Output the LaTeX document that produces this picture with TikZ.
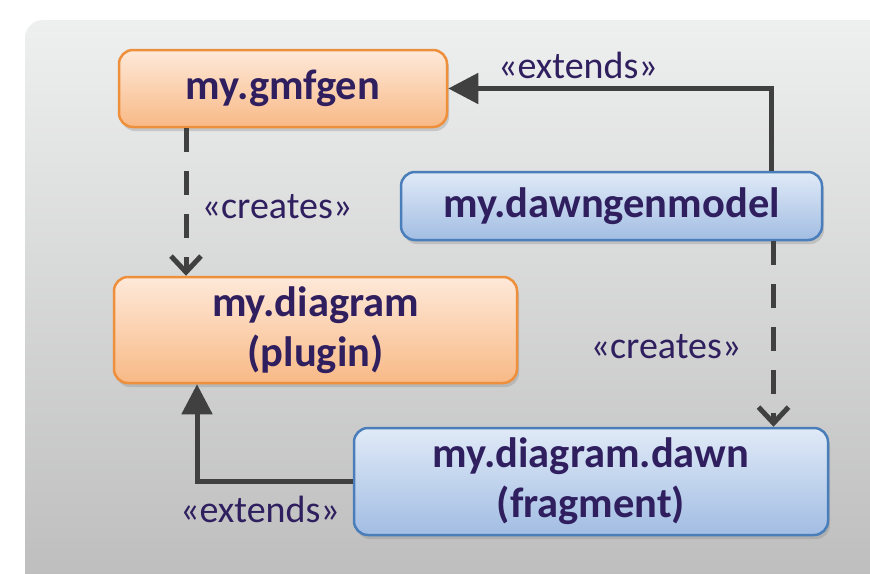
\documentclass[tikz,border=0pt]{standalone}
\usepackage{fontspec}
\setmainfont{Carlito}
\usetikzlibrary{arrows.meta,shadows,calc}

\definecolor{ink}{HTML}{2F1F5F}
\definecolor{wire}{HTML}{404040}
\definecolor{orangeline}{HTML}{EE8F3C}
\definecolor{orangetop}{HTML}{FEE9D9}
\definecolor{orangebot}{HTML}{F8B986}
\definecolor{blueline}{HTML}{4A7EBB}
\definecolor{bluetop}{HTML}{E0EAF7}
\definecolor{bluebot}{HTML}{A2BDE3}
\definecolor{paneltop}{HTML}{EEEFEF}
\definecolor{panelbot}{HTML}{BCBCBC}

\begin{document}
\begin{tikzpicture}[x=1pt, y=-1pt,
    box/.style={draw, line width=2.5pt, rounded corners=14pt, align=center, inner sep=0pt,
        font=\fontsize{42.5}{50}\selectfont\bfseries, text=ink,
        drop shadow={shadow xshift=2pt, shadow yshift=-4pt, opacity=0.3}},
    plugbox/.style={box, draw=orangeline, top color=orangetop, bottom color=orangebot},
    modelbox/.style={box, draw=blueline, top color=bluetop, bottom color=bluebot},
    link/.style={line width=5pt, draw=wire},
    extends/.style={link, -{Triangle[length=30pt, width=30pt]}},
    creates/.style={link, dash pattern=on 24pt off 19pt, -{Straight Barb[length=16pt, width=30pt]}},
    stereo/.style={anchor=base, text=ink, font=\fontsize{38}{44}\selectfont}]
    % --- 1. Frame ---
    \useasboundingbox (0,0) rectangle (870,573);
    \clip (0,0) rectangle (870,573);
    \shade[top color=paneltop, bottom color=panelbot, rounded corners=18pt] (25,20) rectangle (900,600);

    % --- 2. Boxes ---
    \node[plugbox, minimum width=328pt, minimum height=77pt] (gmfgen) at (283,88.5) {my.gmfgen};
    \node[modelbox, minimum width=421pt, minimum height=68pt] (model) at (611.5,206) {my.dawngenmodel};
    \node[plugbox, minimum width=403pt, minimum height=106pt] (plugin) at (315.5,330) {my.diagram\\(plugin)};
    \node[modelbox, minimum width=474pt, minimum height=107pt] (fragment) at (591,481.5) {my.diagram.dawn\\(fragment)};

    % --- 3. Connectors ---
    \coordinate (gmfgenout) at ([xshift=-97pt]gmfgen.south);
    \coordinate (modelout) at ([xshift=162pt]model.south);
    \coordinate (pluginin) at ([xshift=-118.5pt]plugin.south);

    \draw[extends] ([xshift=159.5pt]model.north) |- (gmfgen.east);
    \draw[creates] (gmfgenout) -- (gmfgenout |- plugin.north);
    \draw[creates] (modelout) -- (modelout |- fragment.north);
    \draw[extends] (fragment.west) -| (pluginin);

    % --- 4. Stereotypes ---
    \node[stereo] (extTop) at (578,78) {«extends»};
    \node[stereo] (crLeft) at (277,218) {«creates»};
    \node[stereo] (crRight) at (666,358) {«creates»};
    \node[stereo] (extBot) at (260,522) {«extends»};
\end{tikzpicture}
\end{document}
